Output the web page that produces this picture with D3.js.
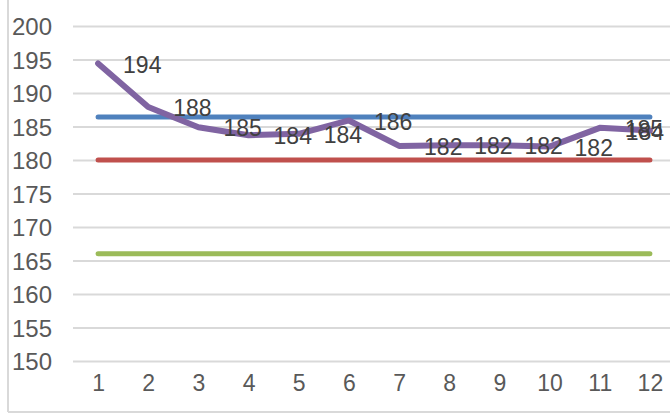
<!DOCTYPE html>
<html><head><meta charset="utf-8">
<script src="https://cdn.jsdelivr.net/npm/d3@7"></script>
<style>
html,body{margin:0;padding:0;background:#fff;overflow:hidden}
svg{display:block}
text{font-family:"Liberation Sans",Arial,sans-serif}
</style></head>
<body>
<svg id="chart" width="670" height="414"></svg>
<script>
const categories = ["1","2","3","4","5","6","7","8","9","10","11","12"];
const measured = [194.4, 187.9, 184.9, 183.7, 183.9, 185.9, 182.1, 182.2, 182.2, 182.0, 184.8, 184.4];
const upperLimit = [186.4,186.4,186.4,186.4,186.4,186.4,186.4,186.4,186.4,186.4,186.4,186.4];
const target = [180,180,180,180,180,180,180,180,180,180,180,180];
const lowerLimit = [166,166,166,166,166,166,166,166,166,166,166,166];
const yTicks = [150,155,160,165,170,175,180,185,190,195,200];

const W = 670, H = 414;
const svg = d3.select("#chart");
const x = d3.scalePoint().domain(categories).range([73, 675]).padding(0.5);
const y = d3.scaleLinear().domain([150, 200]).range([361, 26]);

// frame
svg.append("line").attr("x1",8).attr("x2",8).attr("y1",0).attr("y2",412)
  .attr("stroke","#d9d9d9").attr("stroke-width",2);
svg.append("line").attr("x1",8).attr("x2",W).attr("y1",412).attr("y2",412)
  .attr("stroke","#d9d9d9").attr("stroke-width",2);

// y axis with gridlines
const yAxis = d3.axisLeft(y).tickValues(yTicks).tickSize(-(675-73)).tickPadding(21);
const gy = svg.append("g").attr("transform","translate(73,0)").call(yAxis);
gy.select(".domain").remove();
gy.selectAll(".tick line").attr("stroke","#d9d9d9").attr("stroke-width",2);
gy.selectAll(".tick text").attr("fill","#595959").attr("font-size",24)
  .attr("font-family","Liberation Sans, Arial, sans-serif").attr("dy","0.36em");

// x axis labels
const xAxis = d3.axisBottom(x).tickSize(0).tickPadding(0);
const gx = svg.append("g").attr("transform","translate(0,383)").call(xAxis);
gx.select(".domain").remove();
gx.selectAll(".tick text").attr("fill","#595959").attr("font-size",23)
  .attr("font-family","Liberation Sans, Arial, sans-serif").attr("dy","0.33em");

const line = d3.line().x((d,i)=>x(categories[i])).y(d=>y(d));
const series = [
  {vals: upperLimit, color:"#4F81BD", w:5},
  {vals: target, color:"#C0504D", w:5},
  {vals: lowerLimit, color:"#9BBB59", w:5},
  {vals: measured, color:"#8064A2", w:6}
];
series.forEach(s=>{
  svg.append("path").datum(s.vals).attr("d",line)
    .attr("fill","none").attr("stroke",s.color).attr("stroke-width",s.w)
    .attr("stroke-linecap","round").attr("stroke-linejoin","round");
});

// data labels (right of points)
const fmt = d3.format(".0f");
const labels = svg.append("g");
measured.forEach((v,i)=>{
  const t = labels.append("text")
    .attr("font-size",23).attr("fill","#404040")
    .attr("y", y(v)).attr("dy","0.4em")
    .text(fmt(v));
  const w = t.node().getComputedTextLength();
  let lx = x(categories[i]) + 25;
  if (lx + w > W - 6) lx = W - 6 - w;
  t.attr("x", lx);
});
</script>
</body></html>
